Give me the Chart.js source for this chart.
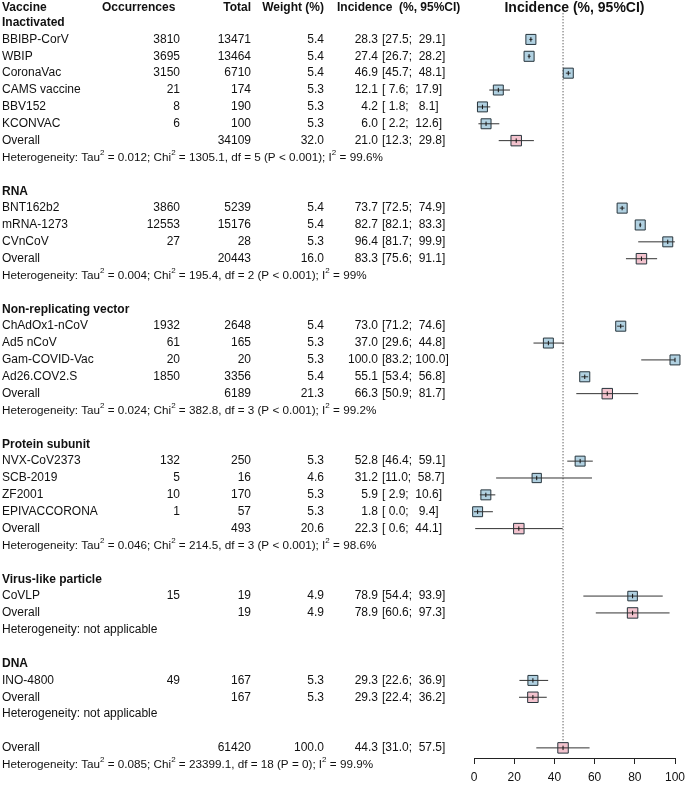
<!DOCTYPE html>
<html>
<head>
<meta charset="utf-8">
<script src="https://cdn.jsdelivr.net/npm/chart.js@4.4.1/dist/chart.umd.min.js"></script>
<style>
  body { margin: 0; background: #fff; }
</style>
</head>
<body>
<canvas id="forest" width="685" height="785"></canvas>
<script>
// Vaccine platforms, in the order they are shown
const GROUPS = ['Inactivated', 'RNA', 'Non-replicating vector', 'Protein subunit', 'Virus-like particle', 'DNA'];

// One entry per vaccine
const VACCINES = ['BBIBP-CorV', 'WBIP', 'CoronaVac', 'CAMS vaccine', 'BBV152', 'KCONVAC',
  'BNT162b2', 'mRNA-1273', 'CVnCoV',
  'ChAdOx1-nCoV', 'Ad5 nCoV', 'Gam-COVID-Vac', 'Ad26.COV2.S',
  'NVX-CoV2373', 'SCB-2019', 'ZF2001', 'EPIVACCORONA',
  'CoVLP', 'INO-4800'];
const VACCINE_GROUP = [0, 0, 0, 0, 0, 0, 1, 1, 1, 2, 2, 2, 2, 3, 3, 3, 3, 4, 5];
const OCCURRENCES = [3810, 3695, 3150, 21, 8, 6, 3860, 12553, 27, 1932, 61, 20, 1850, 132, 5, 10, 1, 15, 49];
const TOTALS = [13471, 13464, 6710, 174, 190, 100, 5239, 15176, 28, 2648, 165, 20, 3356, 250, 16, 170, 57, 19, 167];
const WEIGHTS = [5.4, 5.4, 5.4, 5.3, 5.3, 5.3, 5.4, 5.4, 5.3, 5.4, 5.3, 5.3, 5.4, 5.3, 4.6, 5.3, 5.3, 4.9, 5.3];
const INCIDENCE = [28.3, 27.4, 46.9, 12.1, 4.2, 6.0, 73.7, 82.7, 96.4, 73.0, 37.0, 100.0, 55.1, 52.8, 31.2, 5.9, 1.8, 78.9, 29.3];
const CI_LOW = [27.5, 26.7, 45.7, 7.6, 1.8, 2.2, 72.5, 82.1, 81.7, 71.2, 29.6, 83.2, 53.4, 46.4, 11.0, 2.9, 0.0, 54.4, 22.6];
const CI_HIGH = [29.1, 28.2, 48.1, 17.9, 8.1, 12.6, 74.9, 83.3, 99.9, 74.6, 44.8, 100.0, 56.8, 59.1, 58.7, 10.6, 9.4, 93.9, 36.9];

// Pooled estimate per platform
const GROUP_TOTALS = [34109, 20443, 6189, 493, 19, 167];
const GROUP_WEIGHTS = [32.0, 16.0, 21.3, 20.6, 4.9, 5.3];
const GROUP_INCIDENCE = [21.0, 83.3, 66.3, 22.3, 78.9, 29.3];
const GROUP_LOW = [12.3, 75.6, 50.9, 0.6, 60.6, 22.4];
const GROUP_HIGH = [29.8, 91.1, 81.7, 44.1, 97.3, 36.2];
// Heterogeneity per platform (null = not applicable)
const HET_TAU2 = ['0.012', '0.004', '0.024', '0.046', null, null];
const HET_CHI2 = ['1305.1', '195.4', '382.8', '214.5', null, null];
const HET_DF = [5, 2, 3, 3, null, null];
const HET_P = ['P < 0.001', 'P < 0.001', 'P < 0.001', 'P < 0.001', null, null];
const HET_I2 = ['99.6%', '99%', '99.2%', '98.6%', null, null];

// Overall pooled estimate
const ALL_TOTAL = 61420;
const ALL_WEIGHT = 100.0;
const ALL_INCIDENCE = 44.3;
const ALL_LOW = 31.0;
const ALL_HIGH = 57.5;
const ALL_HET = { tau2: '0.085', chi2: '23399.1', df: 18, p: 'P = 0', i2: '99.9%' };

// Axis ticks
const X_TICKS = [0, 20, 40, 60, 80, 100];

const FONT = '12px "Liberation Sans", Arial, sans-serif';
const HET_FONT = '11.7px "Liberation Sans", Arial, sans-serif';
const BOLD = 'bold 12px "Liberation Sans", Arial, sans-serif';
const SUP = '8px "Liberation Sans", Arial, sans-serif';
const TITLE = 'bold 14px "Liberation Sans", Arial, sans-serif';
const STUDY_FILL = '#b1d1e1';
const POOL_FILL = '#f3c3ce';
const EDGE = '#26343c';

// Lay out the rows of the table: each row index becomes a y value.
const rows = [];
let r = 0;
rows.push({ type: 'header', row: r++ });
GROUPS.forEach((g, gi) => {
  rows.push({ type: 'group', row: r++, gi: gi });
  VACCINES.forEach((v, i) => {
    if (VACCINE_GROUP[i] == gi) rows.push({ type: 'study', row: r++, i: i });
  });
  rows.push({ type: 'pooled', row: r++, gi: gi });
  rows.push({ type: 'het', row: r++, gi: gi });
  r++;
});
const totalRow = r;
rows.push({ type: 'total', row: r++ });
rows.push({ type: 'totalHet', row: r++ });

// Build the plotted marks from the rows
const ciLine = [], studyPts = [], poolPts = [], ticks = [];
rows.forEach(row => {
  var est, lo, hi;
  if (row.type == 'study') {
    est = INCIDENCE[row.i]; lo = CI_LOW[row.i]; hi = CI_HIGH[row.i];
    studyPts.push({ x: est, y: row.row, w: WEIGHTS[row.i] });
  } else if (row.type == 'pooled') {
    est = GROUP_INCIDENCE[row.gi]; lo = GROUP_LOW[row.gi]; hi = GROUP_HIGH[row.gi];
    poolPts.push({ x: est, y: row.row });
  } else if (row.type == 'total') {
    est = ALL_INCIDENCE; lo = ALL_LOW; hi = ALL_HIGH;
    poolPts.push({ x: est, y: row.row });
  } else {
    return;
  }
  ciLine.push({ x: lo, y: row.row }, { x: hi, y: row.row }, { x: null, y: null });
  ticks.push({ x: est, y: row.row });
});

function fmtCI(lo, hi) {
  return '[' + lo.toFixed(1).padStart(4, ' ') + '; ' + hi.toFixed(1).padStart(5, ' ') + ']';
}

function hetParts(tau2, chi2, df, p, i2) {
  return [
    { t: 'Heterogeneity: Tau' }, { t: '2', sup: true }, { t: ' = ' + tau2 + '; Chi' }, { t: '2', sup: true },
    { t: ' = ' + chi2 + ', df = ' + df + ' (' + p + '); I' }, { t: '2', sup: true }, { t: ' = ' + i2 }
  ];
}

function drawParts(ctx, parts, x, y) {
  parts.forEach(p => {
    ctx.font = p.sup ? SUP : HET_FONT;
    ctx.fillText(p.t, x, p.sup ? y - 5 : y);
    x += ctx.measureText(p.t).width;
  });
}

// Column positions of the table on the left
const COL = { name: 2, occ: 180, total: 251, weight: 324, est: 378, ci: 382 };

const tablePlugin = {
  id: 'table',
  afterDraw(chart) {
    const ctx = chart.ctx;
    const ys = chart.scales.y;
    ctx.save();
    ctx.fillStyle = '#111';
    ctx.textBaseline = 'middle';

    function txt(s, x, y, align, font) {
      ctx.font = font || FONT;
      ctx.textAlign = align || 'left';
      ctx.fillText(s, x, y);
    }
    function estCols(y, est, lo, hi) {
      txt(est.toFixed(1), COL.est, y, 'right');
      txt(fmtCI(lo, hi), COL.ci, y, 'left');
    }

    rows.forEach(row => {
      const y = ys.getPixelForValue(row.row);
      if (row.type == 'header') {
        // header line sits a touch lower than the row grid
        txt('Vaccine', COL.name, y + 1.5, 'left', BOLD);
        txt('Occurrences', 102, y + 1.5, 'left', BOLD);
        txt('Total', COL.total, y + 1.5, 'right', BOLD);
        txt('Weight (%)', COL.weight, y + 1.5, 'right', BOLD);
        txt('Incidence  (%, 95%CI)', 337, y + 1.5, 'left', BOLD);
        txt('Incidence (%, 95%CI)', (chart.chartArea.left + chart.chartArea.right) / 2, y + 2.5, 'center', TITLE);
      } else if (row.type == 'group') {
        txt(GROUPS[row.gi], COL.name, y, 'left', BOLD);
      } else if (row.type == 'study') {
        const i = row.i;
        txt(VACCINES[i], COL.name, y);
        txt(String(OCCURRENCES[i]), COL.occ, y, 'right');
        txt(String(TOTALS[i]), COL.total, y, 'right');
        txt(WEIGHTS[i].toFixed(1), COL.weight, y, 'right');
        estCols(y, INCIDENCE[i], CI_LOW[i], CI_HIGH[i]);
      } else if (row.type == 'pooled') {
        const g = row.gi;
        txt('Overall', COL.name, y);
        txt(String(GROUP_TOTALS[g]), COL.total, y, 'right');
        txt(GROUP_WEIGHTS[g].toFixed(1), COL.weight, y, 'right');
        estCols(y, GROUP_INCIDENCE[g], GROUP_LOW[g], GROUP_HIGH[g]);
      } else if (row.type == 'het') {
        const g = row.gi;
        ctx.textAlign = 'left';
        if (HET_TAU2[g] == null) {
          txt('Heterogeneity: not applicable', COL.name, y);
        } else {
          drawParts(ctx, hetParts(HET_TAU2[g], HET_CHI2[g], HET_DF[g], HET_P[g], HET_I2[g]), COL.name, y);
        }
      } else if (row.type == 'total') {
        txt('Overall', COL.name, y);
        txt(String(ALL_TOTAL), COL.total, y, 'right');
        txt(ALL_WEIGHT.toFixed(1), COL.weight, y, 'right');
        estCols(y, ALL_INCIDENCE, ALL_LOW, ALL_HIGH);
      } else if (row.type == 'totalHet') {
        ctx.textAlign = 'left';
        drawParts(ctx, hetParts(ALL_HET.tau2, ALL_HET.chi2, ALL_HET.df, ALL_HET.p, ALL_HET.i2), COL.name, y);
      }
    });
    ctx.restore();
  }
};

// Square size: side of about 10px, scaled a little by weight
function squareRadius(w) {
  return 7.1 * Math.sqrt(w / 5.4);
}

new Chart(document.getElementById('forest'), {
  type: 'scatter',
  data: {
    datasets: [
      {
        // dotted reference line at the overall estimate
        type: 'line',
        data: [{ x: ALL_INCIDENCE, y: 0.45 }, { x: ALL_INCIDENCE, y: totalRow }],
        borderColor: '#222',
        borderWidth: 1,
        borderDash: [1, 2],
        pointRadius: 0,
        order: 4,
      },
      {
        data: studyPts,
        pointStyle: 'rect',
        pointRadius: studyPts.map(p => squareRadius(p.w)),
        backgroundColor: STUDY_FILL,
        borderColor: EDGE,
        borderWidth: 1,
        clip: false,
        order: 3,
      },
      {
        data: poolPts,
        pointStyle: 'rect',
        pointRadius: 7.4,
        backgroundColor: POOL_FILL,
        borderColor: EDGE,
        borderWidth: 1,
        clip: false,
        order: 3,
      },
      {
        // confidence intervals, one segment per row
        type: 'line',
        data: ciLine,
        borderColor: '#333',
        borderWidth: 1,
        pointRadius: 0,
        spanGaps: false,
        clip: false,
        order: 2,
      },
      {
        // small vertical mark at the point estimate
        data: ticks,
        pointStyle: 'line',
        rotation: 90,
        pointRadius: 2.2,
        borderColor: '#111',
        borderWidth: 1,
        clip: false,
        order: 1,
      },
    ],
  },
  options: {
    responsive: false,
    animation: false,
    events: [],
    layout: { autoPadding: false, padding: { left: 474, right: 10, top: 0, bottom: -7 } },
    plugins: { legend: { display: false }, tooltip: { enabled: false } },
    scales: {
      x: {
        type: 'linear',
        min: 0,
        max: 100,
        afterBuildTicks: axis => { axis.ticks = X_TICKS.map(v => ({ value: v })); },
        // the layout padding already leaves room for the end labels
        afterFit: axis => { axis.paddingLeft = 0; axis.paddingRight = 0; },
        grid: { drawOnChartArea: false, drawTicks: true, tickLength: 6, color: '#222' },
        border: { display: true, color: '#222', width: 1 },
        ticks: { color: '#111', font: { family: '"Liberation Sans", Arial, sans-serif', size: 12, lineHeight: 1 }, padding: 8, maxRotation: 0 },
      },
      y: {
        type: 'linear',
        reverse: true,
        min: -0.3375,
        max: 44.6,
        display: false,
      },
    },
  },
  plugins: [tablePlugin],
});
</script>
</body>
</html>
